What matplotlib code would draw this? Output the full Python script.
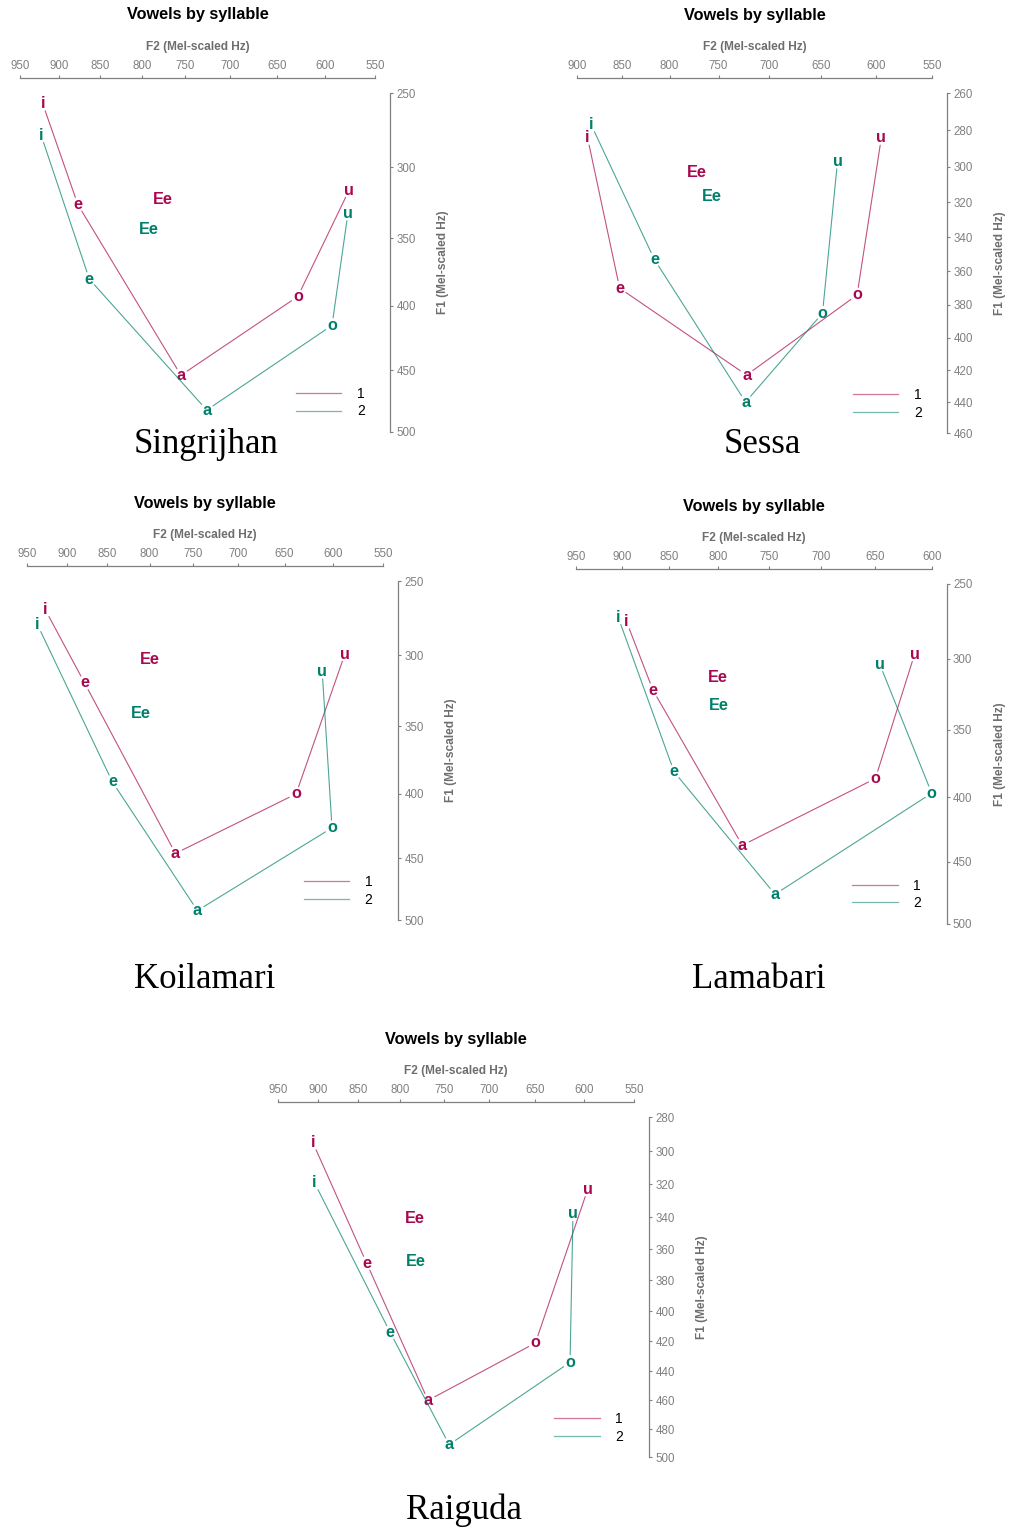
import numpy as np
import matplotlib
matplotlib.use('Agg')
import matplotlib.pyplot as plt
from matplotlib.ticker import FixedLocator, NullLocator, FormatStrFormatter

plt.rcParams['font.family'] = ['Liberation Sans', 'DejaVu Sans']

# ---- data (F2, F1 per vowel, syllable 1 and 2) ----
sites = ['Singrijhan', 'Sessa', 'Koilamari', 'Lamabari', 'Raiguda']
vowels = ['i', 'e', 'a', 'o', 'u']

f2_syl1 = {'Singrijhan': [921, 877, 755, 628, 576],
           'Sessa':      [888, 853, 722, 617, 595],
           'Koilamari':  [927, 878, 770, 638, 588],
           'Lamabari':   [895, 867, 776, 650, 615],
           'Raiguda':    [906, 840, 768, 650, 596]}
f1_syl1 = {'Singrijhan': [257, 326, 454, 393, 316],
           'Sessa':      [284, 370, 423, 374, 284],
           'Koilamari':  [269, 319, 446, 400, 299],
           'Lamabari':   [275, 322, 437, 386, 297],
           'Raiguda':    [295, 369, 460, 421, 323]}
f2_syl2 = {'Singrijhan': [923, 863, 726, 593, 577],
           'Sessa':      [884, 816, 723, 649, 635],
           'Koilamari':  [937, 844, 745, 601, 611],
           'Lamabari':   [904, 845, 744, 600, 646],
           'Raiguda':    [904, 812, 744, 614, 611]}
f1_syl2 = {'Singrijhan': [278, 380, 482, 415, 332],
           'Sessa':      [277, 353, 440, 385, 297],
           'Koilamari':  [279, 391, 492, 426, 311],
           'Lamabari':   [272, 381, 476, 397, 304],
           'Raiguda':    [319, 414, 491, 434, 338]}

ee_syl1 = {'Singrijhan': (776, 322), 'Sessa': (772, 303), 'Koilamari': (800, 303),
           'Lamabari': (800, 313), 'Raiguda': (783, 341)}
ee_syl2 = {'Singrijhan': (792, 344), 'Sessa': (757, 317), 'Koilamari': (810, 341),
           'Lamabari': (799, 333), 'Raiguda': (782, 368)}

# axis ranges: (f2 max, f2 min), (f1 min, f1 max, step)
f2_range = {'Singrijhan': (950, 550), 'Sessa': (900, 550), 'Koilamari': (950, 550),
            'Lamabari': (950, 600), 'Raiguda': (950, 550)}
f1_range = {'Singrijhan': (250, 500, 50), 'Sessa': (260, 460, 20), 'Koilamari': (250, 500, 50),
            'Lamabari': (250, 500, 50), 'Raiguda': (280, 500, 20)}

# plot area in pixels: left, right, top, bottom ; place name (x, baseline)
boxes = {'Singrijhan': (20, 375.3, 93, 432), 'Sessa': (576.7, 932.3, 93.3, 433.3),
         'Koilamari': (27.3, 383.3, 581, 920.3), 'Lamabari': (576, 931.7, 584, 923.7),
         'Raiguda': (278.3, 634, 1117.3, 1457.3)}
names_at = {'Singrijhan': (206, 453), 'Sessa': (762, 453), 'Koilamari': (205, 988),
            'Lamabari': (759, 988), 'Raiguda': (464, 1519)}

RED = '#a8084f'
GREEN = '#00806a'
GREY = '#808080'


def mel(v):
    return 2595 * np.log10(1 + np.asarray(v) / 700.0)


def imel(m):
    return 700 * (10 ** (np.asarray(m) / 2595.0) - 1)


W, H = 1010, 1528
fig = plt.figure(figsize=(W / 100, H / 100), dpi=100)

for site in sites:
    l, r, t, b = boxes[site]
    ax = fig.add_axes([l / W, 1 - b / H, (r - l) / W, (b - t) / H])
    ax.set_xscale('function', functions=(mel, imel))
    ax.set_yscale('function', functions=(mel, imel))
    xa, xb = f2_range[site]
    ya, yb, ys = f1_range[site]
    ax.set_xlim(xa, xb)
    ax.set_ylim(yb, ya)
    ax.xaxis.set_major_locator(FixedLocator(np.arange(xb, xa + 1, 50)))
    ax.yaxis.set_major_locator(FixedLocator(np.arange(ya, yb + 1, ys)))
    ax.xaxis.set_minor_locator(NullLocator())
    ax.yaxis.set_minor_locator(NullLocator())
    ax.xaxis.set_major_formatter(FormatStrFormatter('%d'))
    ax.yaxis.set_major_formatter(FormatStrFormatter('%d'))

    for s in ['left', 'bottom']:
        ax.spines[s].set_visible(False)
    for s in ['top', 'right']:
        ax.spines[s].set_position(('outward', 10.8))
        ax.spines[s].set_color(GREY)
        ax.spines[s].set_linewidth(0.9)
    ax.xaxis.tick_top()
    ax.yaxis.tick_right()
    ax.tick_params(colors=GREY, labelsize=8.3, length=2.5, width=0.8, pad=2)

    ax.set_xlabel('F2 (Mel-scaled Hz)', fontsize=8.6, fontweight='bold', color='#6e6e6e')
    ax.xaxis.set_label_position('top')
    ax.xaxis.set_label_coords(0.5, 1 + 46 / (b - t))
    ax.xaxis.label.set_va('center')
    ax.set_ylabel('F1 (Mel-scaled Hz)', fontsize=8.6, fontweight='bold', color='#6e6e6e')
    ax.yaxis.set_label_position('right')
    ax.yaxis.set_label_coords(1 + 68 / (r - l), 0.5)
    ax.yaxis.label.set_va('center')

    ax.text(0.5, 1 + 78 / (b - t), 'Vowels by syllable', transform=ax.transAxes,
            ha='center', va='center', fontsize=11.7, fontweight='bold')

    for f2, f1, ee, col, lab in [(f2_syl1[site], f1_syl1[site], ee_syl1[site], RED, '1'),
                                 (f2_syl2[site], f1_syl2[site], ee_syl2[site], GREEN, '2')]:
        ax.plot([], [], color=col, lw=0.9, alpha=0.55, label=lab)
        for j in range(len(vowels) - 1):
            ax.annotate('', xy=(f2[j + 1], f1[j + 1]), xytext=(f2[j], f1[j]),
                        arrowprops=dict(arrowstyle='-', color=col, lw=0.8, alpha=0.7,
                                        shrinkA=5.5, shrinkB=5.5))
        for v, x, y in zip(vowels, f2, f1):
            ax.text(x, y, v, color=col, fontsize=11.7, fontweight='bold',
                    ha='center', va='center')
        ax.text(ee[0], ee[1], 'Ee', color=col, fontsize=11.7, fontweight='bold',
                ha='center', va='center')

    ax.legend(loc='lower right', bbox_to_anchor=(0.97, 0.04), frameon=False,
              fontsize=10, handlelength=3.3, handletextpad=1.1, labelspacing=0.25,
              borderpad=0, borderaxespad=0)

    nx, ny = names_at[site]
    fig.text(nx / W, 1 - ny / H, site, ha='center', va='baseline',
             fontsize=25, family='Liberation Serif')

fig.savefig('out.png', dpi=100)
